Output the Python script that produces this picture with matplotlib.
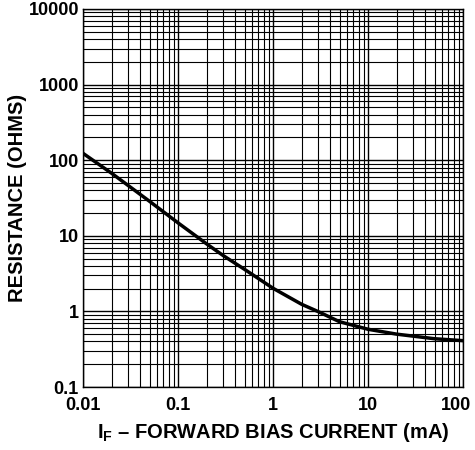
import numpy as np
import matplotlib.pyplot as plt
import matplotlib.transforms as mtransforms
from matplotlib.ticker import LogLocator, NullFormatter, FixedLocator, FixedFormatter

plt.rcParams['font.family'] = ['Liberation Sans', 'DejaVu Sans']
plt.rcParams['font.weight'] = 'bold'
plt.rcParams['mathtext.fontset'] = 'custom'
plt.rcParams['mathtext.rm'] = 'Liberation Sans:bold'
plt.rcParams['mathtext.it'] = 'Liberation Sans:bold'

# forward bias current (mA) vs resistance (ohms)
current = [0.01, 0.02, 0.03, 0.05, 0.1, 0.2, 0.3, 0.5, 1, 2, 3, 5, 10, 20, 50, 100]
resistance = [123, 67, 46, 28.6, 14.8, 7.8, 5.45, 3.6, 2.02, 1.24, 0.99, 0.73, 0.58, 0.50, 0.435, 0.41]

xticks = [0.01, 0.1, 1, 10, 100]
xlabels = ['0.01', '0.1', '1', '10', '100']
yticks = [0.1, 1, 10, 100, 1000, 10000]
ylabels = ['0.1', '1', '10', '100', '1000', '10000']

fig = plt.figure(figsize=(4.75, 4.5), dpi=100)
ax = fig.add_axes([0.175, 0.14, 0.8, 0.84])

ax.plot(current, resistance, color='black', lw=2.5, zorder=3)

ax.set_xscale('log')
ax.set_yscale('log')
ax.set_xlim(0.01, 100)
ax.set_ylim(0.1, 10000)

ax.xaxis.set_major_locator(FixedLocator(xticks))
ax.xaxis.set_major_formatter(FixedFormatter(xlabels))
ax.yaxis.set_major_locator(FixedLocator(yticks))
ax.yaxis.set_major_formatter(FixedFormatter(ylabels))
ax.xaxis.set_minor_locator(LogLocator(base=10, subs=np.arange(2, 10)))
ax.yaxis.set_minor_locator(LogLocator(base=10, subs=np.arange(2, 10)))
ax.xaxis.set_minor_formatter(NullFormatter())
ax.yaxis.set_minor_formatter(NullFormatter())

ax.grid(which='major', color='black', lw=1.0)
ax.grid(which='minor', color='black', lw=0.8)
ax.tick_params(which='both', length=0, labelsize=13)
ax.tick_params(axis='x', pad=7)
ax.tick_params(axis='y', pad=3)
for lbl in ax.get_xticklabels() + ax.get_yticklabels():
    lbl.set_fontweight('bold')

# nudge the last x label so it stays inside the figure
last = ax.get_xticklabels()[-1]
last.set_transform(last.get_transform() + mtransforms.ScaledTranslation(-5 / 72, 0, fig.dpi_scale_trans))

for s in ax.spines.values():
    s.set_linewidth(1.0)

ax.set_xlabel(r'I$_{\rm F}$ – FORWARD BIAS CURRENT (mA)', fontsize=14.5, fontweight='bold', labelpad=5)
ax.set_ylabel('RESISTANCE (OHMS)', fontsize=14.5, fontweight='bold', labelpad=1)

fig.savefig('out.png', dpi=100)
